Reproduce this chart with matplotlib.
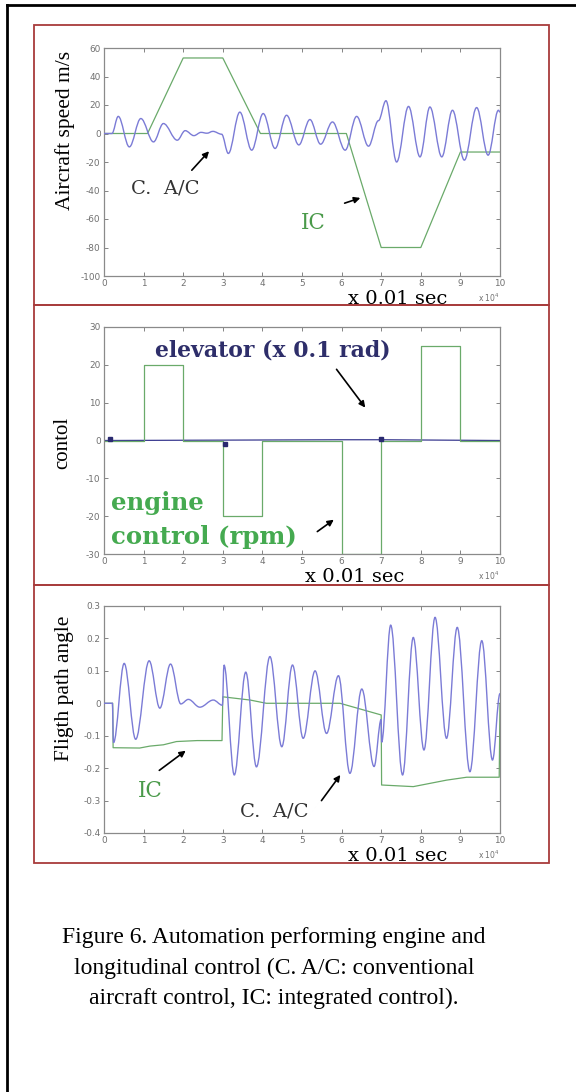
# -*- coding: utf-8 -*-
"""
Figure 6 - engine and longitudinal control, C. A/C vs IC
"""
import matplotlib.pyplot as plt
from matplotlib.path import Path
from matplotlib.patches import PathPatch, Rectangle
from matplotlib.lines import Line2D

plt.rcParams['axes.unicode_minus'] = False

#%% Data (time in x 10^4 steps of 0.01 sec)
# aircraft speed, extrema of the C. A/C oscillation
speed_ca_t = [0, 0.2, 0.36, 0.64, 0.93, 1.25, 1.5, 1.85, 2.05, 2.27, 2.45, 2.6, 2.75, 2.97,
              3.14, 3.43, 3.73, 4.02, 4.32, 4.61, 4.92, 5.2, 5.47, 5.77, 6.09, 6.38, 6.68,
              6.93, 7.12, 7.39, 7.69, 7.98, 8.23, 8.53, 8.8, 9.1, 9.41, 9.7, 9.96, 10.0]
speed_ca_v = [0, 0, 12, -9.4, 10.5, -5.9, 7, -4.7, 2, -1.5, 0.8, 0.2, 1.5, -0.5,
              -14, 15, -11.7, 14, -10.5, 12.8, -8, 9.8, -7.5, 8.1, -11.7, 12, -8.9,
              9, 23, -20, 19, -16.4, 18.6, -16.4, 16.3, -18.7, 18.2, -15.2, 16.3, 15]
speed_ic_t = [0, 1.1, 2.0, 3.0, 3.95, 6.12, 7.0, 8.0, 9.0, 10.0]
speed_ic_v = [0, 0, 53, 53, 0, 0, -80, -80, -13, -13]

# control inputs
engine_t = [0, 1, 2, 3, 4, 6, 7, 8, 9, 10]
engine_rpm = [0, 20, 0, -20, 0, -30, 0, 25, 0, 0]
elevator_t = [0, 6.0, 7.0, 10]
elevator_v = [0, 0.2, 0.2, 0]
elevator_mark_t = [0.15, 3.05, 7.0]
elevator_mark_v = [0.5, -1, 0.3]

# flight path angle
gamma_ca_t = [0, 0.21, 0.24, 0.51, 0.8, 1.14, 1.41, 1.68, 1.94, 2.13, 2.42, 2.76, 2.99, 3.03,
              3.29, 3.58, 3.85, 4.19, 4.49, 4.76, 5.03, 5.33, 5.62, 5.92, 6.21, 6.51, 6.82,
              7.0, 7.01, 7.24, 7.54, 7.81, 8.08, 8.36, 8.65, 8.92, 9.24, 9.54, 9.81, 10.0]
gamma_ca_v = [0, 0, -0.121, 0.123, -0.111, 0.131, -0.015, 0.121, -0.002, 0.012, -0.012, 0.010,
              -0.006, 0.118, -0.221, 0.096, -0.196, 0.144, -0.134, 0.118, -0.108, 0.1, -0.093,
              0.085, -0.216, 0.044, -0.195, -0.05, -0.12, 0.241, -0.221, 0.203, -0.144, 0.265,
              -0.108, 0.234, -0.211, 0.193, -0.175, 0.03]
gamma_ic_t = [0, 0.22, 0.23, 0.9, 1.16, 1.5, 1.83, 2.35, 2.98, 3.0, 3.69, 4.1, 5.96, 7.0,
              7.01, 7.81, 8.65, 9.16, 9.98, 10.0]
gamma_ic_v = [0, 0, -0.137, -0.138, -0.132, -0.128, -0.118, -0.115, -0.115, 0.02, 0.01, 0,
              0, -0.036, -0.252, -0.257, -0.237, -0.228, -0.228, 0]

speed_ticks = [-100, -80, -60, -40, -20, 0, 20, 40, 60]
control_ticks = [-30, -20, -10, 0, 10, 20, 30]
gamma_ticks = [-0.4, -0.3, -0.2, -0.1, 0, 0.1, 0.2, 0.3]
gamma_ticklabels = ['-0.4', '-0.3', '-0.2', '-0.1', '0', '0.1', '0.2', '0.3']

#%% Styles
blue = '#7b7bd6'
green = '#6aaa6a'
red = '#a83c3c'
W, H = 576, 1092


def fx(px):
    return px / W


def fy(py):
    return 1 - py / H


def smooth_line(ax, xs, ys, color, lw):
    # curve through extrema with flat tangents
    verts = [(xs[0], ys[0])]
    codes = [Path.MOVETO]
    for i in range(1, len(xs)):
        x0, y0, x1, y1 = xs[i - 1], ys[i - 1], xs[i], ys[i]
        d = 0.36 * (x1 - x0)
        verts += [(x0 + d, y0), (x1 - d, y1), (x1, y1)]
        codes += [Path.CURVE4] * 3
    ax.add_patch(PathPatch(Path(verts, codes), fc='none', ec=color, lw=lw, zorder=3))


def make_axes(top, bottom):
    ax = fig.add_axes([fx(104), fy(bottom), fx(500) - fx(104), (bottom - top) / H])
    ax.set_xlim(0, 10)
    ax.set_xticks(range(11))
    ax.tick_params(direction='in', length=3, width=0.6, colors='#707070', labelsize=6.4,
                   top=True, right=True, pad=2.5)
    for s in ax.spines.values():
        s.set_color('#8a8a8a')
        s.set_linewidth(0.9)
    return ax


fig = plt.figure(figsize=(5.76, 10.92), dpi=100)

# outer frame and red boxes
fig.add_artist(Line2D([fx(7), fx(7)], [fy(5), 0], color='black', lw=2))
fig.add_artist(Line2D([fx(7), 1], [fy(5), fy(5)], color='black', lw=2))
for top, bottom in [(25, 305), (305, 585), (585, 863)]:
    fig.add_artist(Rectangle((fx(34), fy(bottom)), fx(549) - fx(34), (bottom - top) / H,
                             transform=fig.transFigure, fill=False, ec=red, lw=1.3))

serif = 'Liberation Serif'
wide = 'DejaVu Serif'
arrow = dict(arrowstyle='-|>', color='black', lw=1.2, mutation_scale=9)

#%% Aircraft speed
ax1 = make_axes(48, 276)
ax1.plot(speed_ic_t, speed_ic_v, color=green, lw=0.9)
smooth_line(ax1, speed_ca_t, speed_ca_v, blue, 1.0)
ax1.set_ylim(-100, 60)
ax1.set_yticks(speed_ticks)
ax1.annotate('', xy=(2.70, -11), xytext=(2.17, -27.2), arrowprops=arrow)
ax1.text(1.54, -38.3, 'C.  A/C', family=wide, fontsize=14, color='#333333',
         ha='center', va='center')
ax1.annotate('', xy=(6.54, -44.6), xytext=(6.01, -49.5), arrowprops=arrow)
ax1.text(5.28, -63, 'IC', family=wide, fontsize=15.5, color='#4a9a4a',
         ha='center', va='center')
fig.text(fx(65), fy(130), 'Aircraft speed m/s', family=serif, fontsize=15.5,
         rotation=90, ha='center', va='center')

#%% Control
ax2 = make_axes(327, 554)
ax2.plot(elevator_t, elevator_v, color='#3a3a90', lw=0.9)
ax2.plot(elevator_mark_t, elevator_mark_v, ls='none', marker='s', ms=3,
         mfc='#2a2a70', mec='#2a2a70', zorder=4)
ax2.plot(engine_t, engine_rpm, color=green, lw=0.9, drawstyle='steps-post')
ax2.set_ylim(-30, 30)
ax2.set_yticks(control_ticks)
ax2.text(4.27, 23.9, 'elevator (x 0.1 rad)', family=wide, fontsize=15.8, weight='bold',
         color='#2e2e6a', ha='center', va='center')
ax2.annotate('', xy=(6.64, 8.1), xytext=(5.83, 19.4), arrowprops=arrow)
ax2.text(0.18, -16.5, 'engine', family=wide, fontsize=17.6, weight='bold',
         color='#45aa50', ha='left', va='center')
ax2.text(0.18, -25.5, 'control (rpm)', family=wide, fontsize=17.6, weight='bold',
         color='#45aa50', ha='left', va='center')
ax2.annotate('', xy=(5.86, -20.5), xytext=(5.33, -24.5), arrowprops=arrow)
fig.text(fx(63), fy(443), 'contol', family=serif, fontsize=15,
         rotation=90, ha='center', va='center')

#%% Flight path angle
ax3 = make_axes(606, 833)
ax3.plot(gamma_ic_t, gamma_ic_v, color=green, lw=0.9)
smooth_line(ax3, gamma_ca_t, gamma_ca_v, blue, 1.0)
ax3.set_ylim(-0.4, 0.3)
ax3.set_yticks(gamma_ticks)
ax3.set_yticklabels(gamma_ticklabels)
ax3.annotate('', xy=(2.12, -0.141), xytext=(1.34, -0.212), arrowprops=arrow)
ax3.text(1.16, -0.27, 'IC', family=wide, fontsize=15.5, color='#4a9a4a',
         ha='center', va='center')
ax3.annotate('', xy=(6.01, -0.214), xytext=(5.45, -0.307), arrowprops=arrow)
ax3.text(4.31, -0.335, 'C.  A/C', family=wide, fontsize=14, color='#333333',
         ha='center', va='center')
fig.text(fx(65), fy(688), 'Fligth path angle', family=serif, fontsize=15.5,
         rotation=90, ha='center', va='center')

# time axis labels (baseline positions)
for cx, base in [(398, 304), (355, 582), (398, 861)]:
    fig.text(fx(cx), fy(base), 'x 0.01 sec', family=wide, fontsize=14,
             ha='center', va='baseline')
    fig.text(fx(500), fy(base - 6), r'x 10$^4$', fontsize=5.5, color='#707070',
             ha='right', va='center')

#%% Caption
caption = ['Figure 6. Automation performing engine and',
           'longitudinal control (C. A/C: conventional',
           'aircraft control, IC: integrated control).']
for i, line in enumerate(caption):
    fig.text(fx(274), fy(938 + 30 * i), line, family=serif, fontsize=17,
             ha='center', va='center')

plt.savefig('out.png', dpi=100)
